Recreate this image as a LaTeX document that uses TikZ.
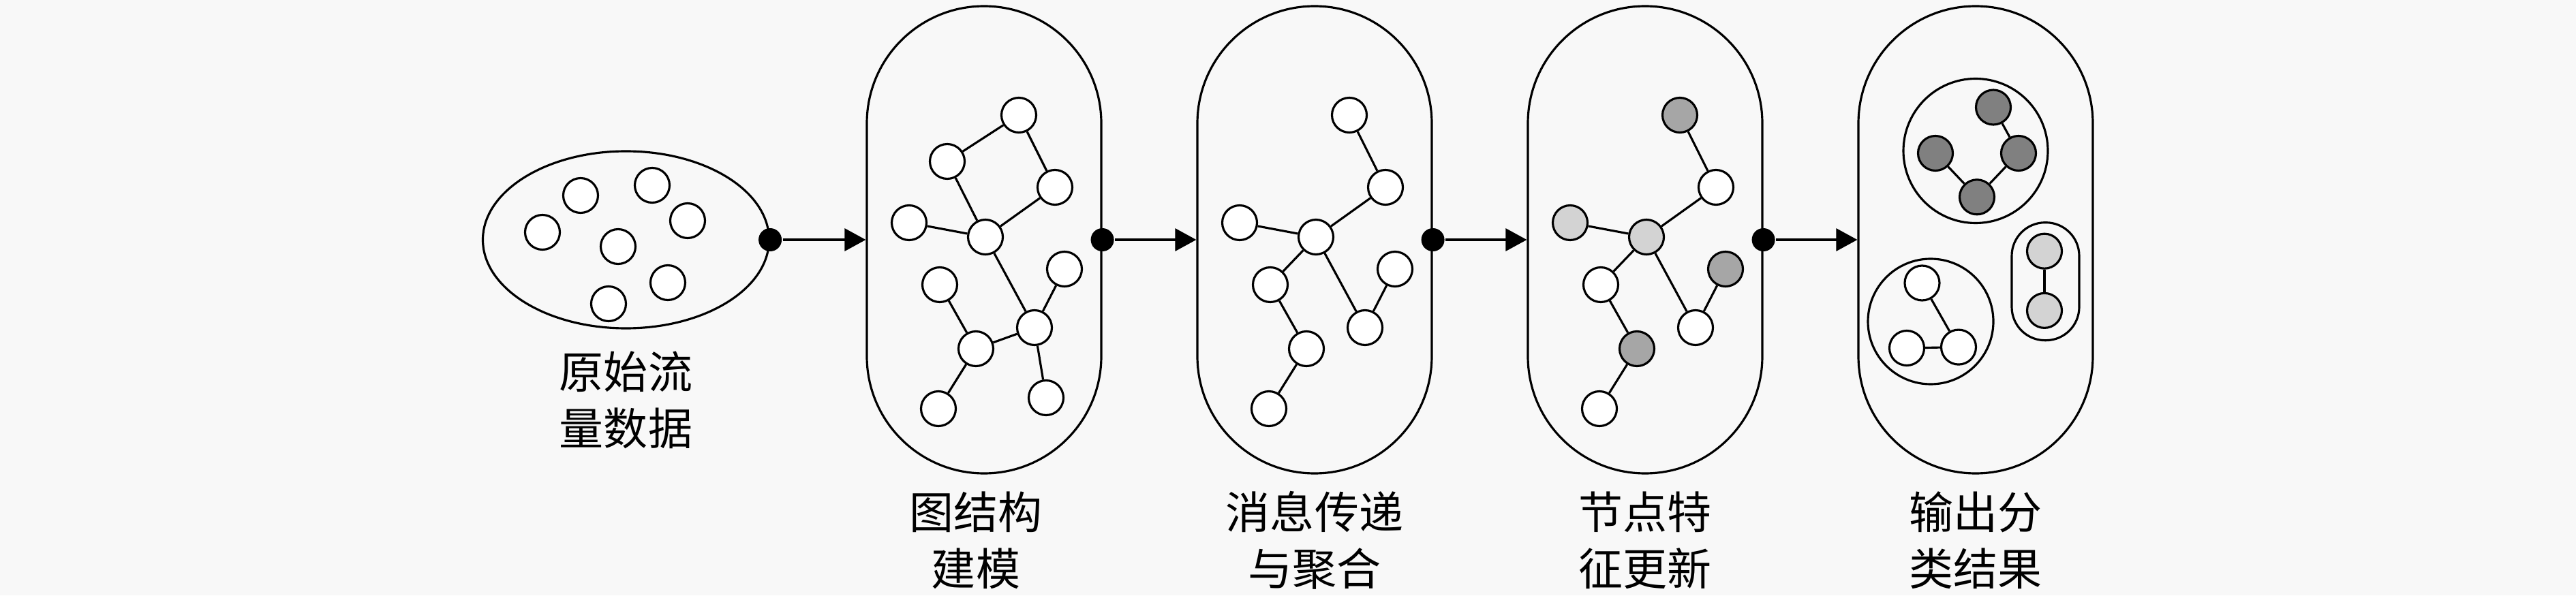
\documentclass[tikz,border=0pt]{standalone}
\usepackage{fontspec}
\newfontfamily\cjk{Noto Sans CJK SC}
\usetikzlibrary{arrows.meta,shapes.geometric,positioning}
\definecolor{bgcol}{RGB}{248,248,248}
\definecolor{lightnode}{RGB}{211,211,211}
\definecolor{midnode}{RGB}{166,166,166}
\definecolor{darknode}{RGB}{128,128,128}

\begin{document}
\begin{tikzpicture}[line width=0.9pt]

      \tikzset{vertex/.style={draw, circle, inner sep=0pt, minimum size=.51cm, fill=white}}
      \tikzset{port/.style={circle, inner sep=0pt, minimum size=.34cm, fill=black}}
      \tikzset{stage/.style={draw, rectangle, rounded corners=1.72cm, minimum width=3.44cm, minimum height=6.86cm}}
      \tikzset{flow/.style={-{Triangle[length=.31cm, width=.33cm]}}}
      \tikzset{caption/.style={align=center, font=\cjk\fontsize{18.5pt}{23.6pt}\selectfont}}

      \fill[bgcol] (0,0) rectangle (37.8,8.74);
      \useasboundingbox (0,0) rectangle (37.8,8.74);

%% Containers
      	\node[draw, ellipse, minimum width=4.2cm, minimum height=2.6cm] (raw) at (9.185,5.22) {};
      	\node[stage] (cap1) at (14.44,5.22) {};
      	\node[stage] (cap2) at (19.29,5.22) {};
      	\node[stage] (cap3) at (24.14,5.22) {};
      	\node[stage] (cap4) at (28.99,5.22) {};

%% Raw flows
      	\node[vertex] (r1) at (7.96,5.33) {};
      	\node[vertex] (r2) at (8.52,5.87) {};
      	\node[vertex] (r3) at (9.57,6.02) {};
      	\node[vertex] (r4) at (10.09,5.50) {};
      	\node[vertex] (r5) at (9.07,5.12) {};
      	\node[vertex] (r6) at (9.80,4.59) {};
      	\node[vertex] (r7) at (8.93,4.28) {};

%% Graph construction
      	\node[vertex] (a1) at (14.95,7.05) {};
      	\node[vertex] (b1) at (13.90,6.37) {};
      	\node[vertex] (c1) at (15.48,5.99) {};
      	\node[vertex] (d1) at (13.34,5.47) {};
      	\node[vertex] (e1) at (14.46,5.26) {};
      	\node[vertex] (f1) at (13.79,4.56) {};
      	\node[vertex] (g1) at (15.62,4.79) {};
      	\node[vertex] (h1) at (15.18,3.93) {};
      	\node[vertex] (i1) at (14.32,3.62) {};
      	\node[vertex] (j1) at (13.77,2.74) {};
      	\node[vertex] (k1) at (15.35,2.90) {};
		\draw (a1) -- (b1);
		\draw (a1) -- (c1);
		\draw (b1) -- (e1);
		\draw (c1) -- (e1);
		\draw (d1) -- (e1);
		\draw (e1) -- (h1);
		\draw (g1) -- (h1);
		\draw (h1) -- (i1);
		\draw (f1) -- (i1);
		\draw (i1) -- (j1);
		\draw (h1) -- (k1);

%% Message passing
	\begin{scope}[xshift=4.85cm]
      	\node[vertex] (a2) at (14.95,7.05) {};
      	\node[vertex] (c2) at (15.48,5.99) {};
      	\node[vertex] (d2) at (13.34,5.47) {};
      	\node[vertex] (e2) at (14.46,5.26) {};
      	\node[vertex] (f2) at (13.79,4.56) {};
      	\node[vertex] (g2) at (15.62,4.79) {};
      	\node[vertex] (h2) at (15.18,3.93) {};
      	\node[vertex] (i2) at (14.32,3.62) {};
      	\node[vertex] (j2) at (13.77,2.74) {};
		\draw (a2) -- (c2);
		\draw (c2) -- (e2);
		\draw (d2) -- (e2);
		\draw (e2) -- (f2);
		\draw (e2) -- (h2);
		\draw (g2) -- (h2);
		\draw (f2) -- (i2);
		\draw (i2) -- (j2);
	\end{scope}

%% Feature update
	\begin{scope}[xshift=9.70cm]
      	\node[vertex, fill=midnode] (a3) at (14.95,7.05) {};
      	\node[vertex] (c3) at (15.48,5.99) {};
      	\node[vertex, fill=lightnode] (d3) at (13.34,5.47) {};
      	\node[vertex, fill=lightnode] (e3) at (14.46,5.26) {};
      	\node[vertex] (f3) at (13.79,4.56) {};
      	\node[vertex, fill=midnode] (g3) at (15.62,4.79) {};
      	\node[vertex] (h3) at (15.18,3.93) {};
      	\node[vertex, fill=midnode] (i3) at (14.32,3.62) {};
      	\node[vertex] (j3) at (13.77,2.74) {};
		\draw (a3) -- (c3);
		\draw (c3) -- (e3);
		\draw (d3) -- (e3);
		\draw (e3) -- (f3);
		\draw (e3) -- (h3);
		\draw (g3) -- (h3);
		\draw (f3) -- (i3);
		\draw (i3) -- (j3);
	\end{scope}

%% Classification result
      	\node[draw, circle, minimum size=2.12cm] (grpA) at (28.99,6.525) {};
      	\node[draw, circle, minimum size=1.84cm] (grpB) at (28.33,4.02) {};
      	\node[draw, rectangle, rounded corners=.49cm, minimum width=.99cm, minimum height=1.73cm] (grpC) at (30.015,4.608) {};
      	\node[vertex, fill=darknode] (x1) at (29.25,7.165) {};
      	\node[vertex, fill=darknode] (x2) at (28.40,6.49) {};
      	\node[vertex, fill=darknode] (x3) at (29.62,6.49) {};
      	\node[vertex, fill=darknode] (x4) at (29.01,5.847) {};
      	\node[vertex] (y1) at (28.205,4.585) {};
      	\node[vertex] (y2) at (27.98,3.63) {};
      	\node[vertex] (y3) at (28.74,3.644) {};
      	\node[vertex, fill=lightnode] (z1) at (30.00,5.053) {};
      	\node[vertex, fill=lightnode] (z2) at (30.00,4.181) {};
		\draw (x1) -- (x3);
		\draw (x2) -- (x4);
		\draw (x3) -- (x4);
		\draw (y1) -- (y3);
		\draw (y2) -- (y3);
		\draw (z1) -- (z2);

%% Ports and arrows
      	\node[port] (p0) at (raw.east) {};
      	\node[port] (p1) at (cap1.east) {};
      	\node[port] (p2) at (cap2.east) {};
      	\node[port] (p3) at (cap3.east) {};
		\draw[flow] (p0) -- (cap1.west);
		\draw[flow] (p1) -- (cap2.west);
		\draw[flow] (p2) -- (cap3.west);
		\draw[flow] (p3) -- (cap4.west);

%% Captions
      	\node[caption] (t0) at (9.185,2.865) {原始流\\量数据};
      	\node[caption] (t1) at (14.32,0.805) {图结构\\建模};
      	\node[caption] (t2) at (19.29,0.805) {消息传递\\与聚合};
      	\node[caption] (t3) at (24.14,0.805) {节点特\\征更新};
      	\node[caption] (t4) at (28.99,0.805) {输出分\\类结果};

	\end{tikzpicture}
\end{document}
